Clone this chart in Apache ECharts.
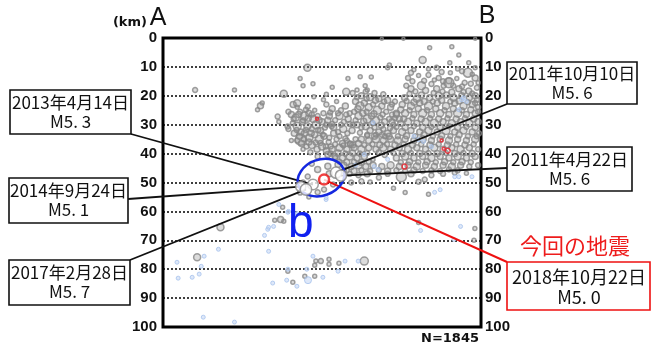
<!DOCTYPE html>
<html>
<head>
<meta charset="utf-8">
<script src="https://cdn.jsdelivr.net/npm/echarts@6/dist/echarts.min.js"></script>
<style>
  html, body { margin: 0; padding: 0; background: #fff; }
  #chart { width: 651px; height: 347px; }
</style>
</head>
<body>
<div id="chart"></div>
<script>
// 深さ方向の目盛 (km)
const depthTicks = [0, 10, 20, 30, 40, 50, 60, 70, 80, 90, 100];

// [距離km, 深さkm, M]
const grayQuakes = [
  [11,18,2.5],[24.5,18,2],[49.5,10.3,3.5],[47,14,2],[48,16.5,2],[51.4,15.8,2],[41.4,19.3,3.5],[33.4,23.4,3],[32.4,24.8,2],[34,22.5,2],
  [39.3,27.2,2.5],[44.6,23,3],[46,22.6,3.5],[49.6,23.8,2.5],[51.7,20.3,2],[55,21.4,2],
  [75,0.3,1.5],[82.4,0.3,1.5],[107,0.3,1.5],[91.4,3.4,2],[99,3,2],[101.4,5.9,2],[89,7.6,3.5],[98.3,8.6,2],[104.8,8.6,2],[77.6,9.3,2],
  [77,10.3,2],[85,12,2.5],[86,11,2],[63.4,14,2],[67.6,13.4,2],[71.4,13.5,2],[69.3,16.5,2],[70,18,2],[62.8,18.6,3.5],[58,17,2],[56,19.5,2],
  [43,25.5,2.5],[44,26.5,3],[45.5,27.5,3.5],[47,25.5,2.5],[48.5,27,4],[50,26,3],[51.5,28,3.5],[53,27,2.5],[54.5,29,3],[42.7,30.6,2.5],
  [39.7,29,2],[44.5,29.5,2.5],[46,30.5,4],[47.8,29,3],[49.5,30.5,3.5],[51,31.5,2.5],[52.5,30,4],[54,32,3],[55.5,31,2.5],[43,31.5,2.5],
  [45,33,3],[46.8,34,3],[48.5,33,3],[50.2,34.5,3.5],[52,33.5,3],[53.6,35,4],[55.2,34,3],[56.8,36,2.5],[47.2,35.2,5.5],[47.5,36.5,3],
  [49.2,37.5,2.5],[51,37,3.5],[52.8,38.5,3],[54.5,37.5,3.5],[56,39,3],[57.5,37.5,2.5],[46,24,2],[49,24.8,2.5],[52,25,2],[55,26,2.5],
  [56.5,28.5,3],[57.8,30.5,2.5],[58.5,33,3],[44,35.5,2],[48,38.5,2],[50.5,39.5,2.5],
  [44.8,28,2.5],[46.5,26.5,3],[48,28.5,2.5],[49.8,27.8,3],[51,26.5,2.5],[53.5,28.5,3],[45.8,31.8,2.5],[47.3,32.5,3],[49,31.8,2.5],[50.8,33,3],
  [53.2,31.8,2.5],[54.8,33.5,2.5],[46,35.5,2.5],[48.2,35,2.5],[50,36,3],[52.3,36.2,2.5],[54,36.3,2.5],[55.8,37.5,2.5],[57,34.5,2.5],[56,30,2.5],
  [56,23,2.5],[58,24.5,3],[59.5,22,2],[61,25,2.5],[62.5,23.5,3],[64,26,2.5],[57,27,3],[59,28.5,2.5],[60.5,27,3.5],[62,29,2.5],
  [63.5,28,3],[65,30,2.5],[58.5,31,3],[60,32.5,2.5],[61.8,31.5,3.5],[63.2,33,2.5],[64.8,32,3],[59.5,35,2.5],[61.5,36.5,3],[63,35.5,2.5],
  [65,37,3],[66,35,2.5],[67,36.5,3],
  [57.3,25.8,2.5],[60,26,2.5],[62.8,26.5,2.5],[58,29.8,2.5],[61,30,2.5],[64,29.8,2.5],[60.5,34,2.5],[62.5,34.8,2.5],[64,36.5,2.5],
  [65,19,2.5],[66.5,18,2],[68,20,3],[69.5,18.5,2.5],[71,20.5,3.5],[72.5,19,2.5],[74,21,3],[75.5,19.5,2.5],[77,21.5,3],[66,22,3],
  [67.5,23.5,4],[69,22.5,3],[70.5,24,3.5],[72,23,2.5],[73.5,25,4],[75,23.5,3],[76.5,25.5,2.5],[78,24,3],[65.5,25.5,2.5],[67,27,3.5],
  [68.5,26,3],[70,28,4],[71.5,27,3],[73,28.5,3.5],[74.5,27.5,2.5],[76,29,3],[77.5,28,2.5],[66.5,30,3],[68,31,2.5],[69.5,30.5,3.5],
  [71,32,3],[72.5,31,2.5],[74,32.5,3],[75.5,31.5,2.5],[77,33,3],[79,30,2.5],[80,26,3],[79.5,22,2.5],[81,28,3],
  [66.5,20.5,2.5],[69.8,21,2.5],[72.8,21.5,3],[75.8,22,2.5],[78.5,23,2.5],[66.8,24.5,3],[69.8,25.5,2.5],[72.3,26.2,3],[75.3,26.5,2.5],[78.5,26.5,2.5],
  [66,28.5,2.5],[68.8,28.8,3],[71.8,29.5,2.5],[74.8,30.2,3],[77.8,31.2,2.5],[67.5,32.8,2.5],[70,33.5,2.5],[73,33.5,2.5],[76,34,2.5],
  [91,10.7,2],[93.8,10.3,2.5],[101,10.7,2],[104.5,12,4.5],[107,10.3,2],
  [95.5,11.8,2.5],[98.5,12,2],[102.5,11.5,2.5],[106,12.5,2],
  [84,13.8,2.5],[87.6,13,2],[91,12.8,2.5],[94.5,13.8,2.5],[98,14.8,3],[100.7,14,2],[103.4,15.5,2.5],[107,13.8,3],
  [85.5,15,2.5],[89.5,14.8,2.5],[93,14.5,2],[96,15,2.5],[99.5,16.5,2.5],[102.5,16.8,2.5],[105.5,15.8,2.5],[108,15.5,2],
  [83.4,16.5,2.5],[85,17.6,3],[88.6,16.5,4],[92,15.9,2.5],[93.8,17.6,3],[96.2,16.5,2.5],[98,15.5,5],[101.4,17.6,3],[104.8,18.3,3],[107.6,17.2,2.5],[107,20,3],
  [86.5,18.5,2.5],[90,18.2,3],[92.8,19,2.5],[95.8,18.5,2.5],[99,18.8,3],[103,18.7,2.5],[106,19.2,2.5],
  [82.8,20.7,3],[84.5,19.3,2.5],[87,21,3.5],[88.6,19.7,3],[91.4,20.7,3],[94.5,20,3.5],[97.2,19.7,3],[99.6,20.7,3.5],[102.4,20,3],[105,20.7,3],[107.6,21.4,2.5],
  [83.5,21.8,2.5],[86,22.2,3],[89.5,22,3],[92.5,22,2.5],[95.5,21.5,3],[98.5,22,2.5],[101.5,21.8,3],[104.5,22.2,2.5],[107,22.5,2.5],
  [82,23,3],[85,23.5,3.5],[88,22.5,3],[91,23.5,4],[94,22.5,3],[97,23.5,3.5],[100,22.5,3],[103,23.5,3.5],[106,23,3],[108,24,2.5],
  [81.5,24.8,3],[84.5,25,2.5],[87.5,24.5,3],[90.5,25,2.5],[93.5,24.5,3],[96.5,25,2.5],[99.5,24.5,3],[102.5,25,2.5],[105.5,24.8,3],[108,25.5,2.5],
  [80,26.5,3],[83,26,3.5],[86,26.5,3],[89,26,4],[92,26.5,3],[95,26,3.5],[98,26.5,3],[101,26,4],[104,26.5,3],[107,26,3],
  [79.5,27.8,2.5],[82.5,28,3],[85.5,27.8,2.5],[88.5,28,3],[91.5,27.8,2.5],[94.5,28,3],[97.5,27.8,2.5],[100.5,28,3],[103.5,27.8,2.5],[106.5,28,3],
  [78.5,29,3],[81.5,29.5,3],[84,29,3.5],[87,29.5,3],[90,29,3.5],[93,29.5,4],[96,29,3],[99,29.5,3.5],[102,29,3],[105,29.5,3.5],[108,29,3],
  [80,30.8,2.5],[83,31,3],[86,30.5,2.5],[89,31,3],[92,30.8,2.5],[95,31,3],[98,30.5,2.5],[101,31,3],[104,30.8,2.5],[107,31,3],
  [79,32,3],[82,32.5,3.5],[85,32,3],[88,32.5,3],[91,32,3.5],[94,32.5,3],[97,32,4],[100,32.5,3],[103,32,3.5],[106,32.5,3],[108.3,33,2.5],
  [70,33.8,2.5],[72.5,34,3],[75,33.5,2.5],[77.5,34,3],[80.5,34,2.5],[83.5,33.8,3],[86.5,34,2.5],[89.5,33.5,3],[92.5,34,2.5],[95.5,33.8,3],
  [98.5,34,2.5],[101.5,33.5,3],[104.5,34,2.5],[107.5,34,2.5],
  [68,35,3],[70.5,35.5,3],[73,35,3.5],[75.5,35.5,3],[78,35,3],[80.5,35.5,3.5],[83,35,3],[86,35.5,3],[89,35,3.5],[92,35.5,3],
  [95,35,3],[98,35.5,3.5],[101,35,3],[104,35.5,3],[107,35,3.5],
  [59,36.8,2.5],[61.8,37.2,2.5],[64.3,36.8,3],[69,37,2.5],[71.8,36.8,2.5],[74.3,37,3],[76.8,36.8,2.5],[79.5,37,3],[82.5,36.8,2.5],[85.5,37,3],
  [88.5,36.8,2.5],[91.5,37,3],[94.5,36.8,2.5],[97.5,37,3],[100.5,36.8,2.5],[103.5,37,3],[106.5,36.8,2.5],
  [58,38.5,3],[60.5,38,3.5],[63,38.5,3],[65.5,38,3],[68,38.5,3.5],[70.5,38,3],[73,38.5,3],[75.5,38,3.5],[78,38.5,3],[81,38,3],
  [84,38.5,3.5],[87,38,3],[90,38.5,3],[93,38,3.5],[96,38.5,3],[99,38,3],[102,38.5,3.5],[105,38,3],[108,38.5,2.5],
  [57.5,40,2.5],[60,39.8,3],[62.5,40,2.5],[65,39.8,3],[67.5,40,2.5],[70,39.8,2.5],[74,39.5,2.5],[79,39.8,2.5],[82,40,3],[85,39.8,2.5],
  [88,40,3],[91,39.8,2.5],[94,40,3],[97,39.8,2.5],[100,40,3],[103,39.8,2.5],[106,40,3],
  [59,41,3],[61.5,41.5,3],[64,41,3.5],[66.5,41.5,3],[69,41,3],[72,42,2],[76,40.5,2.5],[80,41.5,3],[83,41,3.5],[86,41.5,3],
  [89,41,3],[92,41.5,3.5],[95,41,3],[98,41.5,3],[101,41,3.5],[104,41.5,3],[107,41,3],
  [60.5,42.8,2.5],[63,43,3],[65.5,42.8,2.5],[68,43,3],[70.5,42.8,2.5],[81.5,43,2.5],[84.5,42.8,3],[87.5,43,2.5],[90.5,42.8,3],[93.5,43,2.5],
  [96.5,42.8,3],[99.5,43,2.5],[102.5,42.8,3],[105.5,43,2.5],
  [62,44,3],[64.5,44.5,3],[67,44,3.5],[69.5,44.5,3],[72,44,3],[75,44.5,3],[78,44,3.5],[81,44.5,3],[84,44,3],[87,44.5,3.5],
  [90,44,3],[93,44.5,3],[96,44,3],[99,44.5,3.5],[102,44,3],[105,44.5,2.5],[108,44,2.5],
  [63,45.8,2.5],[65.5,46,3],[68,45.8,2.5],[71,46,2.5],[74,45.8,2.5],[77,46,3],[80,45.8,2.5],[83,46,2.5],[86,45.8,3],[89,46,2.5],
  [92,45.8,2.5],[95,46,2.5],[98,45.5,2.5],[101,45.8,2.5],
  [64,47,2.5],[67,47.5,2.5],[70,47,3],[74,48.3,2.5],[77,47,2.5],[81.7,48,5],[85,47,3],[87.6,49.7,2.5],[89.7,49,2.5],[92,47.5,2.5],
  [96,47,2.5],[100,46.5,2.5],[104,46.8,2],[64.5,50,2.5],[68,49.6,2.5],[71,49.8,2],
  [49.6,47.9,2.5],[53,45.5,3],[56.5,44.4,3],[60,43.8,3],[58.3,50.7,2.5],[55.2,52.4,2.5],[53,53.4,2.5],[48,50,2.5],[53,41,2.5],[56.5,40.3,3],
  [59,41.5,2.5],[51,43.5,2.5],[57,47,3],[62,46,2.5],[47,53.5,2.5],[50,55,2],
  [19.7,65.5,3.5],[11.7,75.9,3.5],[41,58.6,2],[40.3,62.8,3],[38.3,63.1,2],[41.4,63.4,2],[69,77.2,4],[56.9,76.6,2],[56.9,78.3,2],[54.1,77.2,2.5],
  [52.4,77.2,2],[52,78.6,2],[60.3,77.9,2],[52,82.4,2],[48.6,82.4,2],[44.5,84.5,2],[42.8,80.7,2],[87.6,63.8,2],[106.9,65.9,2],[106.6,70,2],
  [91,54.1,2],[83,53.5,2],[79,52,2]
];

const blueQuakes = [
  [4.8,77.6,2],[5.2,83.1,2],[10,82.8,2],[12.4,81.7,2],[13.1,79,2],[14.1,75.5,2],[19,73.1,2],[13.8,96.6,2],[24.5,98.3,2],[36.2,73.8,2],
  [34.8,68.3,2],[35.9,66.2,2],[37.9,65.2,2],[37.6,84.8,2],[42.4,83.8,2],[42.8,80,2],[45.9,85.9,2],[49.7,83.8,3.5],[49.3,80,2],[51.4,75.5,2],
  [54.8,82.8,2],[60,80.7,2],[62.4,77.2,2],[66.9,77.2,2],[55.9,55.9,2],[45.5,61,2],[43,60,2],[39.7,57.6,2],[42.8,60.3,2],[45.9,60.7,2],
  [36.2,65.5,2],[55.9,55.2,2],[88.3,66.6,2],[102,65.2,2],[99.7,69.7,2],[93.1,53.4,2],[100,48,2],[102.4,21.4,2],[87.6,35.2,2],[89.3,35.8,2],
  [92,37.6,2],[86,34,2],[72.4,44.5,2],[69,40.3,2],[105.9,48,2],[101.4,48,2],[72,29.3,2],[103,20.7,2],[104,22,2],[101.4,24.8,2],
  [73.8,45.5,2],[95,52.5,2],[77,42,2],[66,44,2]
];

const redQuakes = [[52.8,27.9,1.5],[95.5,35.5,1.5],[96.2,38.3,1.5],[97.6,39,2.5],[82.8,44.5,2.5]];

// M5以上の地震: [距離, 深さ, M]
const largeQuakes = [
  [51.4, 50.7, 5.3],  // 2013年4月14日
  [47.2, 51.4, 5.1],  // 2014年9月24日
  [49.0, 52.4, 5.7],  // 2017年2月28日
  [59.3, 46.6, 5.6],  // 2011年10月10日
  [61.0, 47.6, 5.6]   // 2011年4月22日
];
const largeDates = ['2013年4月14日', '2014年9月24日', '2017年2月28日', '2011年10月10日', '2011年4月22日'];

const mainQuake = [55.2, 49.0, 5.0];
const mainDate = '2018年10月22日';
const totalCount = 1845;

const chart = echarts.init(document.getElementById('chart'));
const magSize = d => d[2] * 2;
const FONT_CJK = '"Noto Sans CJK JP"';

chart.setOption({
  animation: false,
  grid: { left: 163, right: 170, top: 38, bottom: 20, show: true, borderColor: '#000', borderWidth: 3, backgroundColor: '#fff' },
  xAxis: { type: 'value', min: 0, max: 109, show: false },
  yAxis: [
    {
      type: 'value', inverse: true, min: 0, max: 100, interval: 10, position: 'left',
      axisLine: { show: false }, axisTick: { show: false },
      axisLabel: { fontSize: 15, fontWeight: 'bold', color: '#111', fontFamily: 'Liberation Sans', margin: 6,
        formatter: v => depthTicks.includes(v) ? String(v) : '' },
      splitLine: { show: true, lineStyle: { color: '#000', type: [2, 2], width: 1.5 } }
    },
    {
      type: 'value', inverse: true, min: 0, max: 100, interval: 10, position: 'right',
      axisLine: { show: false }, axisTick: { show: false },
      axisLabel: { fontSize: 15, fontWeight: 'bold', color: '#111', fontFamily: 'Liberation Sans', margin: 4,
        formatter: v => depthTicks.includes(v) ? String(v) : '' },
      splitLine: { show: false }
    }
  ],
  series: [
    { type: 'scatter', data: grayQuakes, symbolSize: magSize, z: 2, silent: true,
      itemStyle: { color: 'rgba(140,140,140,0.38)', borderColor: '#878787', borderWidth: 1.5 } },
    { type: 'scatter', data: blueQuakes, symbolSize: magSize, z: 2, silent: true,
      itemStyle: { color: 'rgba(196,214,244,0.7)', borderColor: '#a6c2ec', borderWidth: 1 } },
    { type: 'scatter', data: redQuakes, symbolSize: magSize, z: 3, silent: true,
      itemStyle: { color: 'rgba(0,0,0,0)', borderColor: '#e8202a', borderWidth: 1.5 } },
    { type: 'scatter', data: largeQuakes, symbolSize: magSize, z: 5, silent: true,
      itemStyle: { color: '#fff', borderColor: '#878787', borderWidth: 1.5 } },
    { type: 'scatter', data: [mainQuake], symbolSize: magSize, z: 6, silent: true,
      itemStyle: { color: '#fff', borderColor: '#ee1111', borderWidth: 2.5 } }
  ]
});

const px = p => chart.convertToPixel({ xAxisIndex: 0, yAxisIndex: 0 }, [p[0], p[1]]);

// 吹き出しの枠: [x, y, w, h, 線の起点x, 起点y]
const boxes = [
  [10, 90, 121, 44, 131, 134],
  [9, 178, 119, 45, 128, 199],
  [9, 260, 121, 45, 130, 260],
  [507, 62, 130, 42, 507, 104],
  [507, 147, 125, 44, 507, 168]
];

const graphic = [];
largeQuakes.forEach((q, i) => {
  const b = boxes[i];
  const end = px(q);
  graphic.push({ type: 'line', z: 4, shape: { x1: b[4], y1: b[5], x2: end[0], y2: end[1] },
    style: { stroke: '#111', lineWidth: 1.8 } });
  graphic.push({ type: 'rect', z: 10, shape: { x: b[0], y: b[1], width: b[2], height: b[3] },
    style: { fill: '#fff', stroke: '#111', lineWidth: 1.6 } });
  graphic.push({ type: 'text', z: 11, style: {
    text: largeDates[i] + '\nM' + q[2].toFixed(1).replace('.', '. '),
    x: b[0] + b[2] / 2, y: b[1] + b[3] / 2, textAlign: 'center', textVerticalAlign: 'middle',
    font: '17px ' + FONT_CJK, lineHeight: 19, fill: '#111' } });
});

// 今回の地震
const mEnd = px(mainQuake);
graphic.push({ type: 'line', z: 4, shape: { x1: 507, y1: 262, x2: mEnd[0], y2: mEnd[1] },
  style: { stroke: '#ee1111', lineWidth: 2 } });
graphic.push({ type: 'rect', z: 10, shape: { x: 507, y: 262, width: 143, height: 48 },
  style: { fill: '#fff', stroke: '#ee1111', lineWidth: 1.6 } });
graphic.push({ type: 'text', z: 11, style: {
  text: mainDate + '\nM' + mainQuake[2].toFixed(1).replace('.', '. '),
  x: 579, y: 287, textAlign: 'center', textVerticalAlign: 'middle',
  font: '18px ' + FONT_CJK, lineHeight: 20, fill: '#111' } });
graphic.push({ type: 'text', z: 11, style: { text: '今回の地震', x: 575, y: 246,
  textAlign: 'center', textVerticalAlign: 'middle', font: '22px ' + FONT_CJK, fill: '#ee1c1c' } });

// 領域b
const ec = px([54.2, 48.3]);
graphic.push({ type: 'ellipse', z: 4, x: ec[0], y: ec[1], rotation: 0.35,
  shape: { cx: 0, cy: 0, rx: 24, ry: 18 }, style: { fill: 'none', stroke: '#1428e0', lineWidth: 2.5 } });
const bp = px([47.2, 64.5]);
graphic.push({ type: 'text', z: 11, style: { text: 'b', x: bp[0], y: bp[1],
  textAlign: 'center', textVerticalAlign: 'middle', font: '46px "Liberation Sans"', fill: '#1020f0' } });

// 見出し
graphic.push({ type: 'text', z: 11, style: { text: '(km)', x: 147, y: 23, textAlign: 'right', textVerticalAlign: 'middle',
  font: 'bold 13px "DejaVu Sans"', fill: '#111' } });
graphic.push({ type: 'text', z: 11, style: { text: 'A', x: 158, y: 18, textAlign: 'center', textVerticalAlign: 'middle',
  font: '25px "Liberation Sans"', fill: '#111' } });
graphic.push({ type: 'text', z: 11, style: { text: 'B', x: 487, y: 16, textAlign: 'center', textVerticalAlign: 'middle',
  font: '25px "Liberation Sans"', fill: '#111' } });
graphic.push({ type: 'text', z: 11, style: { text: 'N=' + totalCount, x: 479, y: 339, textAlign: 'right', textVerticalAlign: 'middle',
  font: 'bold 13px "DejaVu Sans"', fill: '#111' } });

chart.setOption({ graphic: graphic });
</script>
</body>
</html>
